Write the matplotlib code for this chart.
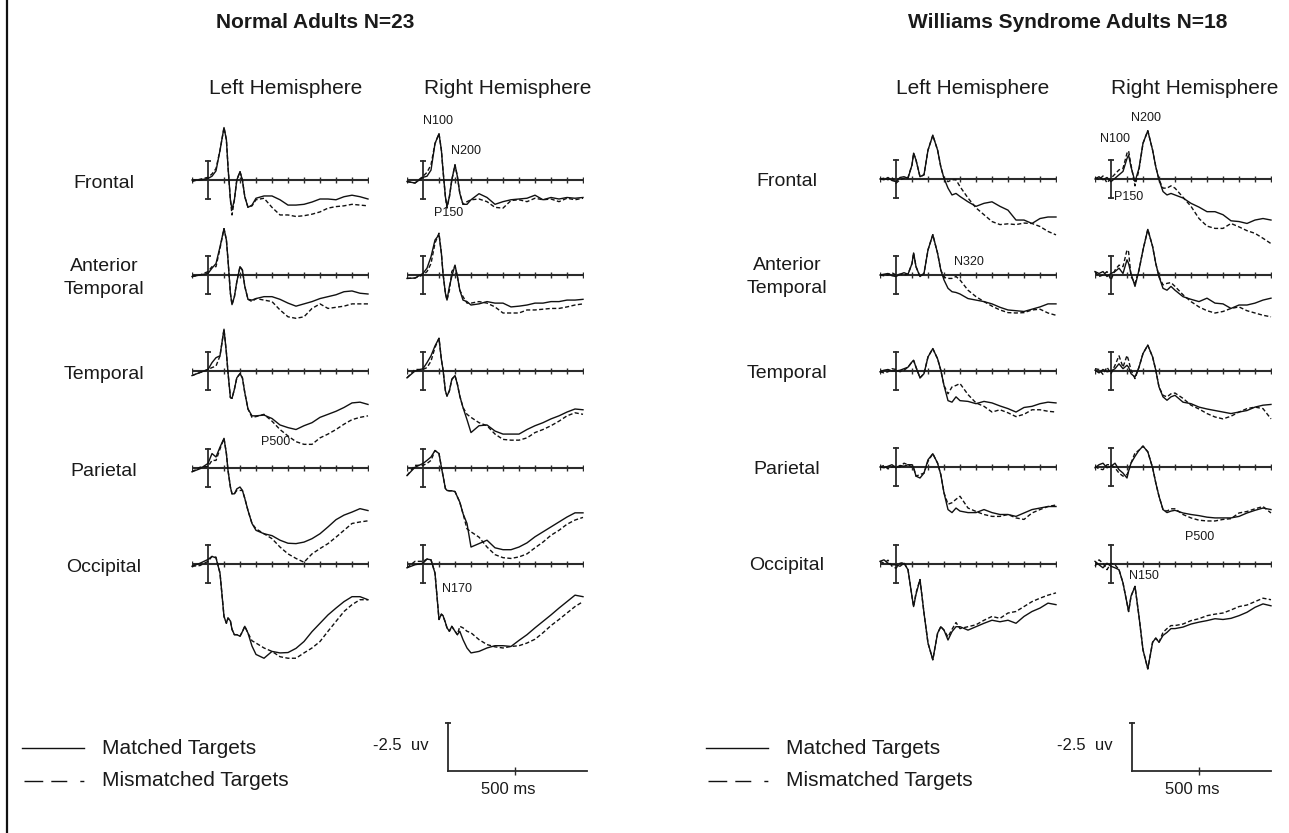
import matplotlib.pyplot as plt

plt.rcParams['font.family'] = ['Liberation Sans', 'DejaVu Sans']
plt.rcParams['lines.scale_dashes'] = False

# sample times (ms)
T_NA = [-100, -50, 0, 25, 50, 75, 100, 115, 125, 140, 150, 165, 180, 200, 215, 230, 250,
        275, 300, 350, 400, 450, 500, 550, 600, 650, 700, 750, 800, 850, 900, 950, 1000]
T_WS = [-100, -75, -50, -25, 0, 25, 50, 75, 100, 110, 125, 150, 175, 200, 230, 260, 280,
        300, 325, 350, 375, 400, 450, 500, 550, 600, 650, 700, 750, 800, 850, 900, 950, 1000]

# Normal adults (uV, negative up)
na_lh_frontal_m = [0.0, 0.0, -0.2, -0.5, -1.2, -3.9, -6.9, -5.3, -1.75, 2.6, 3.9, 2.6, 0.0, -1.1, 0.0, 2.2, 3.6,
                   3.3, 2.4, 2.1, 2.1, 2.6, 3.3, 3.3, 3.2, 2.9, 2.5, 2.5, 2.6, 2.2, 2.0, 2.2, 2.5]
na_lh_frontal_mm = [0.2, -0.1, -0.35, -0.8, -1.5, -3.9, -6.9, -5.3, -1.75, 2.6, 4.6, 2.6, 0.0, -1.1, 0.0, 2.2, 3.6,
                    3.4, 2.6, 2.4, 3.6, 4.6, 4.6, 4.8, 4.7, 4.5, 4.2, 3.7, 3.5, 3.4, 3.2, 3.3, 3.4]
na_rh_frontal_m = [0.2, 0.4, -0.35, -0.5, -1.3, -4.8, -6.1, -3.9, -1.3, 2.2, 3.5, 2.2, 0.0, -2.0, -0.45, 1.75, 3.2,
                   3.2, 2.6, 1.8, 2.3, 3.2, 2.85, 2.6, 2.5, 2.4, 2.0, 2.6, 2.3, 2.5, 2.3, 2.4, 2.3]
na_rh_frontal_mm = [0.2, 0.4, -0.5, -1.0, -2.0, -4.8, -6.1, -3.9, -1.3, 2.2, 3.7, 2.2, 0.0, -2.0, -0.45, 1.75, 3.2,
                    2.85, 2.6, 2.5, 2.85, 3.6, 3.7, 2.7, 2.6, 2.85, 2.4, 2.6, 2.5, 2.85, 2.4, 2.6, 2.4]
na_lh_anttemp_m = [0.2, 0.0, -0.2, -0.9, -1.5, -3.7, -6.1, -4.6, -2.0, 2.4, 3.9, 2.85, 0.9, -1.1, -0.65, 1.5, 3.2,
                   3.3, 3.1, 2.85, 2.85, 3.2, 3.7, 4.1, 3.8, 3.5, 3.1, 2.85, 2.6, 2.2, 2.1, 2.4, 2.5]
na_lh_anttemp_mm = [0.2, 0.0, -0.45, -1.1, -1.1, -3.5, -6.1, -4.6, -2.0, 2.4, 3.9, 2.85, 0.9, -1.1, -0.65, 1.5, 3.2,
                    3.5, 3.1, 3.3, 3.5, 4.6, 5.5, 5.7, 5.5, 4.4, 3.8, 4.4, 4.25, 4.1, 3.8, 3.8, 3.8]
na_rh_anttemp_m = [0.45, 0.4, -0.2, -0.9, -2.4, -4.6, -5.3, -2.85, -0.2, 2.4, 3.3, 1.5, 0.2, -1.3, 0.2, 2.0, 3.3,
                   3.5, 3.95, 3.8, 3.5, 3.7, 3.7, 4.2, 4.1, 3.95, 3.7, 3.7, 3.5, 3.5, 3.3, 3.3, 3.2]
na_rh_anttemp_mm = [0.45, 0.4, 0.0, -0.45, -1.5, -4.2, -5.5, -2.85, -0.2, 2.4, 3.3, 2.0, -0.45, -1.2, 0.2, 2.0, 2.85,
                    3.7, 3.7, 3.5, 3.7, 4.2, 5.0, 5.0, 5.0, 4.6, 4.6, 4.5, 4.4, 4.4, 4.2, 3.95, 3.8]
na_lh_temp_m = [0.6, 0.2, -0.2, -1.1, -1.75, -2.0, -5.5, -2.4, 0.2, 3.5, 3.6, 2.4, 0.9, 0.35, 0.9, 2.85, 5.0,
                5.9, 5.9, 5.8, 6.25, 7.1, 7.45, 7.7, 7.2, 6.8, 6.1, 5.7, 5.3, 4.8, 4.2, 4.1, 4.4]
na_lh_temp_mm = [0.6, 0.2, -0.2, -0.45, -0.65, -2.0, -5.5, -2.4, 0.2, 3.5, 3.6, 2.4, 0.9, 0.35, 0.9, 2.85, 5.0,
                 6.1, 6.0, 5.7, 6.6, 7.7, 8.55, 9.3, 9.65, 9.65, 8.8, 8.3, 7.7, 7.0, 6.4, 6.1, 5.9]
na_rh_temp_m = [0.9, 0.0, -0.3, -1.1, -2.0, -3.3, -4.3, -1.5, -0.2, 2.6, 3.3, 2.6, 1.1, 0.6, 1.75, 3.3, 4.8,
                6.4, 8.1, 7.2, 7.1, 7.9, 8.3, 8.3, 8.3, 7.7, 7.2, 6.8, 6.3, 5.9, 5.4, 5.0, 5.1]
na_rh_temp_mm = [0.9, -0.2, -0.2, -0.45, -1.3, -3.1, -4.3, -1.5, -0.2, 2.6, 3.3, 2.6, 1.1, 0.6, 1.75, 3.3, 4.8,
                 5.7, 6.1, 6.8, 7.2, 8.3, 9.0, 9.1, 9.1, 8.8, 8.1, 7.7, 7.2, 6.6, 5.9, 5.5, 5.7]
na_lh_par_m = [0.5, 0.1, -0.6, -1.9, -1.45, -2.75, -3.9, -1.9, 0.3, 2.5, 3.4, 3.4, 2.75, 2.5, 2.95, 4.0, 5.6,
               7.3, 8.2, 8.65, 8.9, 9.5, 9.9, 9.95, 9.75, 9.3, 8.65, 7.75, 6.8, 6.2, 5.8, 5.35, 5.6]
na_lh_par_mm = [0.5, -0.1, -0.2, -1.0, -1.0, -2.5, -3.9, -1.9, 0.3, 2.5, 3.4, 3.4, 2.95, 2.95, 2.95, 4.0, 5.6,
                7.3, 8.0, 8.65, 9.3, 10.4, 11.3, 11.9, 12.4, 11.3, 10.6, 9.95, 9.1, 8.2, 7.3, 7.1, 6.95]
na_rh_par_m = [1.0, -0.1, -0.6, -1.0, -1.45, -2.3, -1.9, -0.1, 1.0, 2.7, 2.95, 3.0, 3.0, 3.1, 3.8, 4.5, 6.0,
               7.3, 10.4, 9.95, 9.5, 10.5, 10.75, 10.75, 10.4, 9.85, 9.05, 8.4, 7.75, 7.1, 6.45, 5.9, 5.9]
na_rh_par_mm = [1.0, -0.35, -0.35, -0.6, -1.0, -2.3, -1.9, -0.1, 1.0, 2.7, 2.95, 3.0, 3.0, 3.1, 3.8, 4.5, 6.0,
                8.0, 8.4, 9.1, 10.4, 11.4, 11.8, 11.9, 11.7, 11.3, 10.5, 9.75, 8.85, 8.2, 7.4, 6.85, 6.5]
na_lh_occ_m = [0.3, -0.1, -0.6, -1.0, -0.8, 1.2, 6.9, 7.8, 7.1, 7.5, 8.6, 9.3, 9.3, 9.5, 8.9, 8.2, 9.1,
               10.8, 11.9, 12.4, 11.5, 11.7, 11.65, 11.1, 10.2, 8.9, 7.8, 6.7, 5.8, 4.95, 4.3, 4.3, 4.7]
na_lh_occ_mm = [0.3, 0.2, -0.35, -1.0, -0.9, 1.2, 6.9, 7.8, 7.1, 7.5, 8.6, 9.3, 9.3, 9.5, 8.9, 8.2, 9.1,
                10.1, 10.4, 11.05, 11.5, 12.2, 12.4, 12.4, 11.7, 11.05, 10.2, 8.85, 7.55, 6.25, 5.35, 4.7, 4.7]
na_rh_occ_m = [0.5, 0.1, -0.1, -0.65, -0.55, 1.2, 7.3, 6.6, 6.8, 7.7, 8.4, 8.85, 8.2, 8.85, 9.3, 8.85, 9.95,
               11.05, 11.7, 11.5, 11.05, 10.75, 10.75, 10.85, 10.05, 9.3, 8.4, 7.55, 6.7, 5.8, 4.95, 4.1, 4.3]
na_rh_occ_mm = [0.5, -0.35, -0.35, -0.65, -0.55, 1.2, 7.3, 6.6, 6.8, 7.7, 8.4, 8.85, 8.2, 8.85, 9.3, 8.2, 8.4,
                8.85, 9.05, 9.95, 10.6, 10.9, 11.05, 10.85, 10.75, 10.4, 9.9, 9.05, 8.1, 7.3, 6.45, 5.6, 4.95]

# Williams syndrome adults
ws_lh_frontal_m = [0.0, 0.1, -0.2, 0.2, 0.35, -0.2, -0.3, -0.1, -1.85, -3.4, -2.5, -0.3, -0.55, -3.8, -5.75, -3.8, -1.6,
                   -0.1, 1.2, 2.1, 1.9, 2.3, 3.0, 3.6, 3.2, 3.0, 3.6, 4.1, 5.4, 5.4, 5.85, 5.2, 5.0, 5.0]
ws_lh_frontal_mm = [0.0, -0.1, 0.1, -0.2, 0.55, 0.1, -0.1, -0.2, -1.85, -3.4, -2.5, -0.3, -0.55, -3.8, -5.75, -3.8, -1.6,
                    -0.1, 0.35, 0.1, 0.1, 1.0, 2.5, 3.8, 4.7, 5.6, 6.0, 5.9, 6.0, 5.8, 5.85, 6.25, 6.9, 7.35]
ws_rh_frontal_m = [0.0, -0.3, 0.1, -0.2, 0.35, -0.1, -0.55, -1.0, -2.7, -3.15, -1.6, 0.35, -1.4, -4.7, -6.35, -3.8, -1.6,
                   0.1, 1.65, 2.1, 1.9, 2.1, 2.5, 3.2, 3.7, 4.3, 4.3, 4.7, 5.5, 5.6, 5.85, 5.4, 5.2, 5.4]
ws_rh_frontal_mm = [-0.2, 0.1, -0.4, 0.5, -0.1, -0.65, -1.2, -1.4, -3.4, -3.7, -1.85, 0.9, -1.2, -4.7, -6.35, -3.8, -1.6,
                    0.1, 1.2, 1.2, 0.9, 1.2, 2.4, 3.6, 5.2, 6.2, 6.5, 6.5, 5.85, 6.3, 6.8, 7.15, 7.8, 8.5]
ws_lh_anttemp_m = [0.0, -0.1, -0.2, 0.1, 0.2, -0.1, -0.3, -0.1, -1.5, -2.9, -1.1, 0.2, -0.2, -3.3, -5.3, -2.85, -0.65,
                   0.65, 1.75, 2.2, 2.3, 2.5, 3.1, 3.3, 3.5, 3.8, 4.25, 4.6, 4.7, 4.8, 4.5, 4.2, 3.8, 3.8]
ws_lh_anttemp_mm = [0.0, 0.1, 0.0, -0.3, 0.0, -0.1, 0.0, -0.1, -1.5, -2.9, -1.1, 0.2, -0.2, -3.3, -5.3, -2.85, -0.65,
                    0.3, 0.45, 0.45, 0.2, 0.65, 2.0, 2.85, 3.5, 4.1, 4.6, 4.95, 5.0, 4.95, 4.6, 4.5, 5.0, 5.3]
ws_rh_anttemp_m = [-0.45, -0.2, -0.45, 0.2, -0.2, -0.45, -0.9, -0.2, -2.0, -1.5, -0.2, 1.5, -0.65, -3.3, -6.0, -3.75, -1.5,
                   0.2, 1.75, 2.0, 1.5, 2.0, 2.85, 3.2, 3.5, 3.05, 3.7, 3.8, 4.4, 3.95, 3.95, 3.7, 3.3, 3.05]
ws_rh_anttemp_mm = [-0.45, 0.2, 0.0, -0.45, 0.65, -0.65, -1.3, -1.1, -3.3, -3.05, 0.2, 1.1, -0.65, -3.3, -6.0, -3.75, -1.5,
                    0.2, 1.3, 1.1, 1.0, 1.5, 2.6, 3.5, 4.2, 4.7, 5.0, 4.8, 4.4, 4.2, 4.7, 5.0, 5.3, 5.5]
ws_lh_temp_m = [0.1, -0.1, -0.2, 0.0, 0.0, -0.1, -0.3, -0.5, -1.2, -1.4, -0.5, 0.9, 0.35, -1.85, -2.95, -1.6, -0.1,
                1.9, 3.9, 4.1, 3.4, 3.9, 4.0, 4.3, 4.0, 4.2, 4.6, 4.95, 5.4, 4.8, 4.65, 4.3, 4.1, 4.2]
ws_lh_temp_mm = [0.1, 0.25, 0.1, -0.3, -0.2, 0.1, -0.1, -0.5, -1.2, -1.4, -0.5, 0.9, 0.35, -1.85, -2.95, -1.6, -0.1,
                 1.9, 3.0, 2.1, 1.9, 1.65, 3.1, 4.2, 4.65, 5.4, 5.1, 5.5, 6.0, 5.7, 5.1, 5.1, 5.3, 5.4]
ws_rh_temp_m = [-0.1, 0.25, -0.2, 0.1, 0.0, -0.3, -0.95, -0.3, -0.75, -0.5, 0.35, 0.8, -0.5, -2.3, -3.4, -1.85, -0.1,
                2.1, 3.4, 3.85, 3.4, 3.2, 4.1, 4.3, 4.75, 5.0, 5.2, 5.4, 5.6, 5.4, 5.2, 4.75, 4.5, 4.4]
ws_rh_temp_mm = [-0.3, -0.2, 0.45, -0.5, 0.35, -0.75, -2.0, -0.5, -2.05, -1.4, -0.1, 1.0, -0.5, -2.3, -3.4, -1.85, -0.1,
                 2.1, 3.2, 3.4, 3.0, 2.9, 3.6, 4.5, 5.0, 5.6, 6.05, 6.3, 5.95, 5.4, 4.95, 4.75, 4.95, 6.3]
ws_lh_par_m = [0.0, 0.1, -0.1, -0.3, 0.1, -0.2, -0.1, -0.3, -0.3, 0.1, 1.2, 1.45, 0.8, -0.95, -1.75, -0.5, 1.0,
               3.4, 5.6, 6.0, 5.4, 5.8, 6.0, 6.0, 5.6, 6.0, 6.25, 6.25, 6.5, 6.05, 5.6, 5.4, 5.2, 5.2]
ws_lh_par_mm = [0.0, -0.2, 0.25, 0.0, -0.1, 0.0, -0.5, -0.3, 0.0, 0.1, 1.2, 1.0, 0.8, -0.75, -1.75, -0.5, 1.0,
                3.4, 4.9, 4.7, 4.25, 3.85, 5.4, 5.85, 6.25, 6.5, 6.5, 6.25, 6.7, 6.9, 6.05, 5.6, 5.2, 5.0]
ws_rh_par_m = [0.1, -0.3, -0.5, 0.1, -0.1, -0.5, 0.35, 0.8, 1.45, 0.55, -0.5, -1.4, -2.2, -2.75, -2.0, 0.1, 2.1,
               3.85, 5.6, 6.0, 5.8, 5.7, 6.05, 6.25, 6.4, 6.6, 6.7, 6.7, 6.7, 6.5, 6.05, 5.7, 5.4, 5.6]
ws_rh_par_mm = [-0.1, 0.25, 0.35, -0.3, -0.3, 0.1, 0.8, 1.2, 1.0, 0.55, -0.5, -1.85, -2.2, -2.75, -2.0, 0.1, 2.1,
                3.85, 5.6, 5.8, 5.5, 5.5, 6.25, 6.7, 7.0, 7.1, 7.1, 6.9, 6.8, 6.05, 5.85, 5.5, 5.2, 6.05]
ws_lh_occ_m = [-0.35, -0.55, -0.1, 0.1, 0.1, 0.3, -0.1, 0.75, 4.3, 5.6, 4.0, 2.05, 6.45, 10.4, 12.6, 9.1, 8.25,
               8.7, 10.0, 8.9, 8.25, 8.25, 8.7, 8.25, 7.8, 7.4, 7.6, 7.4, 7.8, 6.9, 6.25, 5.8, 5.15, 5.35]
ws_lh_occ_mm = [-0.35, -0.1, -0.5, 0.3, 0.55, -0.1, -0.2, 0.75, 4.3, 5.6, 3.8, 2.05, 6.45, 10.4, 12.6, 9.1, 8.25,
                8.7, 9.6, 8.6, 7.7, 8.5, 8.25, 8.0, 7.4, 6.9, 7.15, 6.45, 6.25, 5.6, 4.95, 4.5, 4.1, 3.8]
ws_rh_occ_m = [-0.35, 0.1, 0.5, -0.1, 0.3, 0.5, 0.75, 2.5, 5.15, 6.25, 4.25, 2.95, 6.9, 11.3, 13.8, 10.3, 9.75,
               10.3, 9.4, 9.0, 8.5, 8.5, 8.3, 7.9, 7.65, 7.45, 7.2, 7.3, 7.15, 6.8, 6.35, 5.7, 5.25, 5.5]
ws_rh_occ_mm = [0.3, -0.55, -0.1, 0.75, -0.1, 0.1, 0.75, 2.5, 5.15, 6.25, 4.25, 2.95, 6.9, 11.3, 13.8, 10.3, 9.75,
                10.3, 9.0, 8.5, 8.1, 8.1, 7.9, 7.45, 7.2, 6.8, 6.6, 6.45, 6.05, 5.6, 5.4, 4.95, 4.5, 4.7]

regions = ['Frontal', 'Anterior\nTemporal', 'Temporal', 'Parietal', 'Occipital']
tick_ms = [-100, 100, 200, 300, 400, 500, 600, 700, 800, 900, 1000]

W, H = 1289, 833
INK = '#1a1a1a'
fig = plt.figure(figsize=(W / 100, H / 100), dpi=100)


def px_axes(x, y, w, h):
    ax = fig.add_axes([x / W, 1 - (y + h) / H, w / W, h / H])
    ax.axis('off')
    return ax


def txt(x, y, s, **kw):
    kw.setdefault('ha', 'center')
    kw.setdefault('va', 'center')
    kw.setdefault('color', INK)
    fig.text(x / W, 1 - y / H, s, **kw)


def panel(x_left, y_axis, t, matched, mismatched):
    # 176 px for -100..1000 ms, 7.6 px per uV
    ax = px_axes(x_left, y_axis - 60.8, 176, 121.6)
    ax.set_xlim(-100, 1000)
    ax.set_ylim(8, -8)
    ax.plot([-100, 1000], [0, 0], color='#2b2b2b', lw=1.5)
    ax.plot(tick_ms, [0] * len(tick_ms), ls='none', marker='|', ms=5, mew=1.0, color='#2b2b2b')
    ax.plot([0, 0], [-2.5, 2.5], color='#2b2b2b', lw=1.3)
    ax.plot([0, 0], [-2.5, 2.5], ls='none', marker='_', ms=5, mew=1.3, color='#2b2b2b')
    ax.plot(t, matched, color='#111111', lw=1.0, clip_on=False)
    ax.plot(t, mismatched, color='#111111', lw=1.0, ls=(0, (3.0, 1.7)), clip_on=False)
    return ax


def scale_bar(x, y):
    ax = px_axes(x, y, 139, 48)
    ax.set_xlim(0, 1040)
    ax.set_ylim(0, -2.5)
    ax.plot([0, 0], [0, -2.5], color='#2b2b2b', lw=1.3, clip_on=False)
    ax.plot([0], [-2.5], marker='_', ms=5, mew=1.3, color='#2b2b2b', clip_on=False)
    ax.plot([0, 1040], [0, 0], color='#2b2b2b', lw=1.3, clip_on=False)
    ax.plot([500], [0], marker='|', ms=6, mew=1.0, color='#2b2b2b', clip_on=False)


rows_na = [180, 275, 371, 468, 564]
rows_ws = [179, 275, 371, 467, 564]

na_data = [(na_lh_frontal_m, na_lh_frontal_mm, na_rh_frontal_m, na_rh_frontal_mm),
           (na_lh_anttemp_m, na_lh_anttemp_mm, na_rh_anttemp_m, na_rh_anttemp_mm),
           (na_lh_temp_m, na_lh_temp_mm, na_rh_temp_m, na_rh_temp_mm),
           (na_lh_par_m, na_lh_par_mm, na_rh_par_m, na_rh_par_mm),
           (na_lh_occ_m, na_lh_occ_mm, na_rh_occ_m, na_rh_occ_mm)]
ws_data = [(ws_lh_frontal_m, ws_lh_frontal_mm, ws_rh_frontal_m, ws_rh_frontal_mm),
           (ws_lh_anttemp_m, ws_lh_anttemp_mm, ws_rh_anttemp_m, ws_rh_anttemp_mm),
           (ws_lh_temp_m, ws_lh_temp_mm, ws_rh_temp_m, ws_rh_temp_mm),
           (ws_lh_par_m, ws_lh_par_mm, ws_rh_par_m, ws_rh_par_mm),
           (ws_lh_occ_m, ws_lh_occ_mm, ws_rh_occ_m, ws_rh_occ_mm)]

for y, (lm, lmm, rm, rmm) in zip(rows_na, na_data):
    panel(192, y, T_NA, lm, lmm)
    panel(407, y, T_NA, rm, rmm)
for y, (lm, lmm, rm, rmm) in zip(rows_ws, ws_data):
    panel(880, y, T_WS, lm, lmm)
    panel(1095, y, T_WS, rm, rmm)

# titles and labels
txt(315, 22, 'Normal Adults N=23', fontsize=15, fontweight='bold')
txt(1068, 22, 'Williams Syndrome Adults N=18', fontsize=15, fontweight='bold')
txt(286, 88, 'Left Hemisphere', fontsize=15)
txt(508, 88, 'Right Hemisphere', fontsize=15)
txt(973, 88, 'Left Hemisphere', fontsize=15)
txt(1195, 88, 'Right Hemisphere', fontsize=15)

for y, name in zip(rows_na, regions):
    txt(104, y + 3, name, fontsize=14, linespacing=1.45)
for y, name in zip(rows_ws, regions):
    txt(787, y + 2, name, fontsize=14, linespacing=1.45)

for x, y, s in [(438, 121, 'N100'), (466, 151, 'N200'), (449, 213, 'P150'),
                (276, 442, 'P500'), (457, 589, 'N170'),
                (969, 262, 'N320'), (1115, 139, 'N100'), (1146, 118, 'N200'),
                (1129, 197, 'P150'), (1200, 537, 'P500'), (1144, 576, 'N150')]:
    txt(x, y, s, fontsize=9)

# legends and scale bars
ov = fig.add_axes([0, 0, 1, 1])
ov.set_xlim(0, W)
ov.set_ylim(H, 0)
ov.axis('off')
ov.plot([7, 7], [0, H], color='#111111', lw=1.6)
for dx in [0, 684]:
    ov.plot([22 + dx, 84 + dx], [748, 748], color='#111111', lw=1.0)
    ov.plot([24 + dx, 84 + dx], [781, 781], color='#111111', lw=1.0,
            ls=(0, (13.5, 5.8, 11.5, 9.4, 2.9, 60)))
    txt(102 + dx, 748, 'Matched Targets', fontsize=15, ha='left')
    txt(102 + dx, 781, 'Mismatched Targets', fontsize=15, ha='left')
    txt(401 + dx, 746, '-2.5  uv', fontsize=12)
    txt(508 + dx, 789, '500 ms', fontsize=12)
    scale_bar(448 + dx, 723)

fig.savefig('out.png', dpi=100)
